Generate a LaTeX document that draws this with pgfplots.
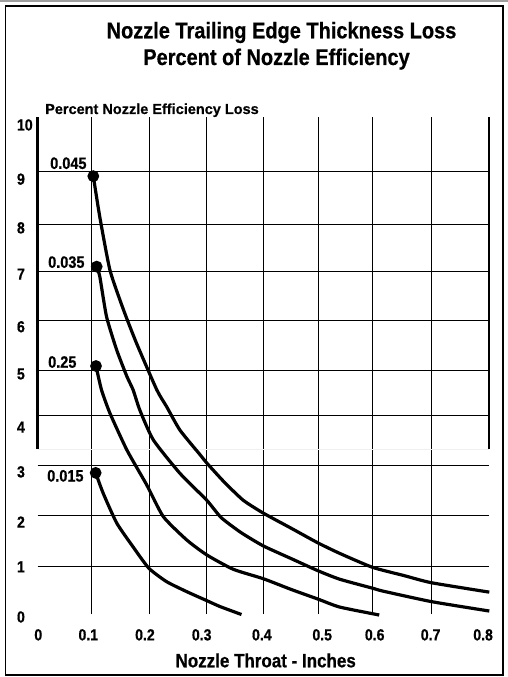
\documentclass[border=0pt]{standalone}
\usepackage{fontspec}
\usepackage{pgfplots}
\pgfplotsset{compat=1.18}
\setmainfont{Liberation Sans}[BoldFeatures={FakeBold=0.5}]
\newfontfamily\cf{Liberation Sans}[FakeStretch=0.88, BoldFeatures={FakeBold=0.6}]

\begin{document}
\begin{tikzpicture}[x=1pt,y=1pt]
\useasboundingbox (0,0) rectangle (508,677);
\fill[white] (0,0) rectangle (508,677);
\fill[gray!75] (0,674.5) rectangle (508,677);
\draw[line width=1.2pt] (5.5,2) rectangle (503,671);
\node[anchor=base, inner sep=0pt, font=\cf\bfseries\fontsize{22.7}{22.7}\selectfont] at (281.5,638.7) {Nozzle Trailing Edge Thickness Loss};
\node[anchor=base, inner sep=0pt, font=\cf\bfseries\fontsize{22.7}{22.7}\selectfont] at (276.5,612) {Percent of Nozzle Efficiency};
\node[anchor=base west, inner sep=0pt, font=\bfseries\fontsize{14.5}{14.5}\selectfont] at (45,563) {Percent Nozzle Efficiency Loss};
\node[anchor=base, inner sep=0pt, font=\cf\bfseries\fontsize{19.3}{19.3}\selectfont] at (265.7,9.7) {Nozzle Throat - Inches};

\begin{axis}[
  at={(37.7pt,60pt)}, anchor=south west,
  scale only axis, width=451.6pt, height=497pt,
  xmin=0, xmax=0.8, ymin=0, ymax=10, clip=false,
  axis line style={draw=none},
  tick style={draw=none},
  major tick length=0pt,
  xtick={0.001,0.0896,0.19,0.2905,0.397,0.504,0.597,0.696,0.789},
  xticklabels={0,0.1,0.2,0.3,0.4,0.5,0.6,0.7,0.8},
  ytick={0,1.01,1.91,2.92,3.82,4.89,5.84,6.90,7.83,8.81,9.90},
  yticklabels={0,1,2,3,4,5,6,7,8,9,10},
  ticklabel style={font=\cf\bfseries\fontsize{16}{16}\selectfont, inner sep=0pt},
  xticklabel style={anchor=north, yshift=-12pt},
  yticklabel style={anchor=west, xshift=-20.9pt},
]
% grid (vertical)
\draw[line width=0.9pt] (axis cs:0.0957,0.06) -- (axis cs:0.0957,10.06);
\draw[line width=0.9pt] (axis cs:0.1973,0.06) -- (axis cs:0.1973,10.06);
\draw[line width=0.9pt] (axis cs:0.2994,0.06) -- (axis cs:0.2994,10.06);
\draw[line width=0.9pt] (axis cs:0.3997,0.06) -- (axis cs:0.3997,10.06);
\draw[line width=0.9pt] (axis cs:0.4966,0.06) -- (axis cs:0.4966,10.06);
\draw[line width=0.9pt] (axis cs:0.5928,0.06) -- (axis cs:0.5928,10.06);
\draw[line width=0.9pt] (axis cs:0.6973,0.06) -- (axis cs:0.6973,10.06);
% grid (horizontal)
\draw[line width=0.9pt] (axis cs:0,8.974) -- (axis cs:0.8,8.974);
\draw[line width=0.9pt] (axis cs:0,7.907) -- (axis cs:0.8,7.907);
\draw[line width=0.9pt] (axis cs:0,6.962) -- (axis cs:0.8,6.962);
\draw[line width=0.9pt] (axis cs:0,5.962) -- (axis cs:0.8,5.962);
\draw[line width=0.9pt] (axis cs:0,4.964) -- (axis cs:0.8,4.964);
\draw[line width=0.9pt] (axis cs:0,4.050) -- (axis cs:0.8,4.050);
\draw[line width=0.9pt] (axis cs:0,3.044) -- (axis cs:0.8,3.044);
\draw[line width=0.9pt] (axis cs:0,2.046) -- (axis cs:0.8,2.046);
\draw[line width=0.9pt] (axis cs:0,1.012) -- (axis cs:0.8,1.012);
\draw[gray!12, line width=0.8pt] (axis cs:0,3.38) -- (axis cs:0.8,3.38);
% thick side lines
\draw[line width=2.5pt] (axis cs:0,3.38) -- (axis cs:0,10.06);
\draw[line width=2.2pt] (axis cs:0.8,3.38) -- (axis cs:0.8,10.06);

% curves
\addplot[black, line width=3.2pt, smooth, tension=0.35, mark=*, mark size=4.2pt, mark indices={1}] coordinates {
(0.0985,8.87) (0.110,8.05) (0.128,6.98) (0.152,6.18) (0.175,5.51) (0.211,4.57) (0.2285,4.23) (0.252,3.76) (0.288,3.26) (0.2994,3.10) (0.33,2.72) (0.364,2.35) (0.3997,2.09) (0.45,1.78) (0.4966,1.49) (0.535,1.28) (0.593,1.00) (0.65,0.83) (0.6973,0.69) (0.8,0.50)};
\addplot[black, line width=3.2pt, smooth, tension=0.35, mark=*, mark size=4.2pt, mark indices={1}] coordinates {
(0.1045,7.05) (0.110,6.85) (0.122,6.04) (0.140,5.37) (0.158,4.84) (0.169,4.57) (0.181,4.16) (0.205,3.56) (0.252,2.89) (0.2994,2.35) (0.325,2.0) (0.36,1.7) (0.3997,1.43) (0.45,1.17) (0.4966,0.93) (0.535,0.76) (0.593,0.58) (0.612,0.52) (0.6973,0.31) (0.8,0.12)};
\addplot[black, line width=3.2pt, smooth, tension=0.35, mark=*, mark size=4.2pt, mark indices={1}] coordinates {
(0.1033,5.05) (0.113,4.57) (0.128,4.10) (0.158,3.36) (0.193,2.66) (0.2225,2.02) (0.264,1.55) (0.2994,1.25) (0.3465,0.96) (0.3997,0.77) (0.45,0.55) (0.4966,0.36) (0.535,0.2) (0.605,0.04)};
\addplot[black, line width=3.2pt, smooth, tension=0.35, mark=*, mark size=4.2pt, mark indices={1}] coordinates {
(0.1027,2.9) (0.116,2.49) (0.14,1.89) (0.169,1.41) (0.197,0.98) (0.2285,0.71) (0.264,0.51) (0.2994,0.33) (0.323,0.21) (0.361,0.05)};

% curve labels
\node[anchor=west, inner sep=0pt, font=\cf\bfseries\fontsize{16.5}{16.5}\selectfont] at (axis cs:0.0218,9.13) {0.045};
\node[anchor=west, inner sep=0pt, font=\cf\bfseries\fontsize{16.5}{16.5}\selectfont] at (axis cs:0.0182,7.14) {0.035};
\node[anchor=west, inner sep=0pt, font=\cf\bfseries\fontsize{16.5}{16.5}\selectfont] at (axis cs:0.0182,5.13) {0.25};
\node[anchor=west, inner sep=0pt, font=\cf\bfseries\fontsize{16.5}{16.5}\selectfont] at (axis cs:0.0165,2.84) {0.015};
\end{axis}
\end{tikzpicture}
\end{document}
